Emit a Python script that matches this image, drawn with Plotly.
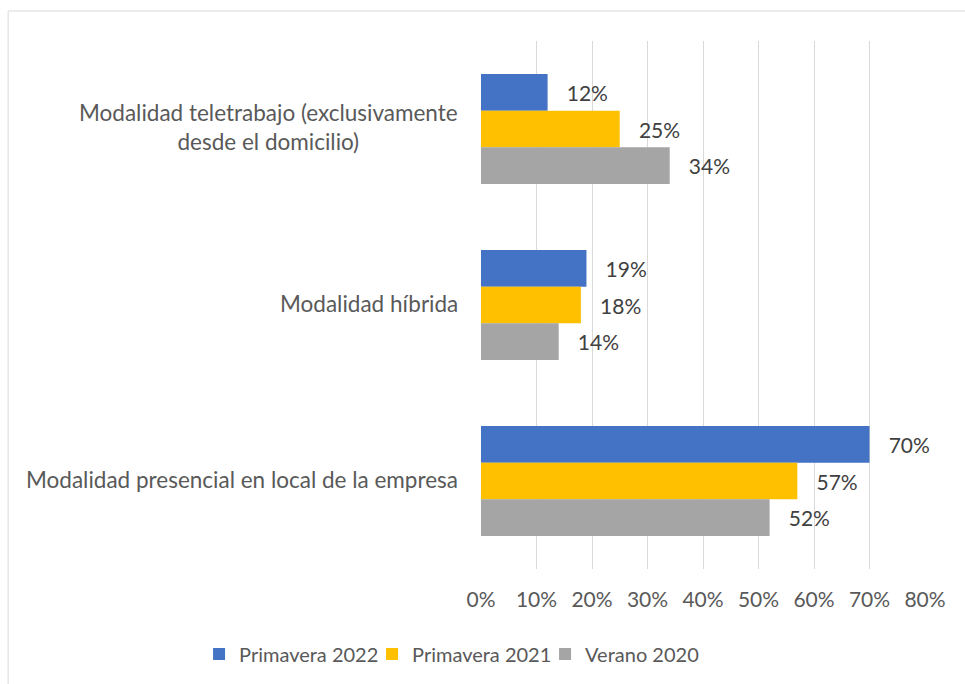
import plotly.graph_objects as go

categories = [
    "Modalidad teletrabajo (exclusivamente<br>desde el domicilio)",
    "Modalidad híbrida",
    "Modalidad presencial en local de la empresa",
]
series_names = ["Primavera 2022", "Primavera 2021", "Verano 2020"]
primavera_2022 = [12, 19, 70]
primavera_2021 = [25, 18, 57]
verano_2020 = [34, 14, 52]
colors = ["#4472C4", "#FFC000", "#A5A5A5"]
x_ticks = [0, 10, 20, 30, 40, 50, 60, 70, 80]
x_tick_text = [f"{v}%" for v in x_ticks]

FONT = "Lato"
TXT = "#595959"
FS = 21

fig = go.Figure()
for name, vals, col in zip(series_names, [primavera_2022, primavera_2021, verano_2020], colors):
    fig.add_trace(go.Bar(
        y=categories, x=vals, name=name, orientation="h",
        marker=dict(color=col, line=dict(width=0)),
        text=["\u00a0\u00a0\u00a0" + f"{v}%" for v in vals],
        textposition="outside", cliponaxis=False,
        textfont=dict(family=FONT, size=FS, color="#404040"),
        hoverinfo="skip",
    ))

# category labels as centered annotations
for c in categories:
    fig.add_annotation(
        xref="paper", yref="y", x=0, y=c, text=c, showarrow=False,
        xanchor="right", yanchor="middle", align="center", xshift=-21, yshift=2,
        font=dict(family=FONT, size=22.5, color=TXT),
    )

fig.add_shape(type="rect", xref="paper", yref="paper",
              x0=-1.065, x1=1.3, y0=-0.3, y1=1.0568,
              line=dict(color="#D9D9D9", width=1), fillcolor="rgba(0,0,0,0)", layer="below")

fig.update_layout(
    width=965, height=684,
    margin=dict(l=481, r=40, t=41, b=115, autoexpand=False),
    paper_bgcolor="white", plot_bgcolor="white",
    barmode="group", bargap=0.375, bargroupgap=0,
    font=dict(family=FONT, size=FS, color=TXT),
    showlegend=True,
    legend=dict(orientation="h", xref="paper", x=-0.635, xanchor="left",
                yref="paper", y=-0.161, yanchor="middle",
                font=dict(family=FONT, size=20, color=TXT),
                itemwidth=30, tracegroupgap=0, entrywidth=128, entrywidthmode="pixels"),
    xaxis=dict(range=[0, 80], tickmode="array", tickvals=x_ticks, ticktext=x_tick_text,
               showgrid=True, gridcolor="#D9D9D9", gridwidth=1,
               zeroline=False, showline=False, ticks="",
               ticklabelstandoff=16,
               tickfont=dict(family=FONT, size=FS, color=TXT)),
    yaxis=dict(autorange="reversed", showticklabels=False, showgrid=False,
               zeroline=False, showline=False, ticks=""),
)

fig.write_html("out.html")
